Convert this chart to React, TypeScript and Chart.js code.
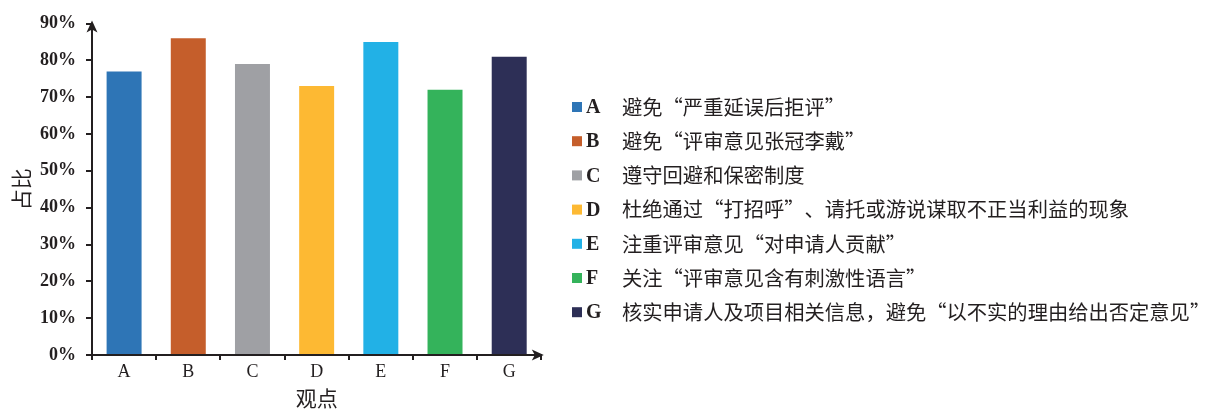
import React, { useEffect, useRef } from 'react';
import { Chart, registerables } from 'chart.js';

Chart.register(...registerables);

const categories = ['A', 'B', 'C', 'D', 'E', 'F', 'G'];
const values = [77, 86, 79, 73, 85, 72, 81];
const barColors = ['#2E75B6', '#C55E2B', '#9FA0A4', '#FDB933', '#22B1E6', '#34B35B', '#2D2F56'];
const legendTexts = [
  '避免“严重延误后拒评”',
  '避免“评审意见张冠李戴”',
  '遵守回避和保密制度',
  '杜绝通过“打招呼”、请托或游说谋取不正当利益的现象',
  '注重评审意见“对申请人贡献”',
  '关注“评审意见含有刺激性语言”',
  '核实申请人及项目相关信息，避免“以不实的理由给出否定意见”',
];
const yMin = 0;
const yMax = 90;
const yStep = 10;
const yTitle = '占比';
const xTitle = '观点';

const INK = '#231F20';

const axisArrows = {
  id: 'axisArrows',
  afterDraw(chart: any) {
    const { ctx, chartArea } = chart;
    const yScale = chart.scales.y;
    const ax = yScale.right;
    const top = chartArea.top;
    const bottom = chartArea.bottom;
    ctx.save();
    ctx.fillStyle = INK;
    ctx.strokeStyle = INK;
    ctx.lineWidth = 2;
    // y axis arrow
    const tipY = top - 3;
    ctx.beginPath();
    ctx.moveTo(ax, tipY);
    ctx.lineTo(ax + 5.5, tipY + 12);
    ctx.lineTo(ax, tipY + 9);
    ctx.lineTo(ax - 5.5, tipY + 12);
    ctx.closePath();
    ctx.fill();
    // x axis arrow
    const tipX = chartArea.right + 2.5;
    ctx.beginPath();
    ctx.moveTo(chartArea.right - 2, bottom);
    ctx.lineTo(tipX - 6, bottom);
    ctx.stroke();
    ctx.beginPath();
    ctx.moveTo(tipX, bottom);
    ctx.lineTo(tipX - 12, bottom - 5.5);
    ctx.lineTo(tipX - 9, bottom);
    ctx.lineTo(tipX - 12, bottom + 5.5);
    ctx.closePath();
    ctx.fill();
    ctx.restore();
  },
};

const sideLegend = {
  id: 'sideLegend',
  afterDraw(chart: any) {
    const { ctx } = chart;
    const x0 = 572;
    const y0 = 107;
    const step = 34.2;
    ctx.save();
    ctx.textBaseline = 'middle';
    ctx.textAlign = 'left';
    categories.forEach((c, i) => {
      const y = y0 + i * step;
      ctx.fillStyle = barColors[i];
      ctx.fillRect(x0, y - 5, 10, 10);
      ctx.fillStyle = INK;
      ctx.font = 'bold 20px "Liberation Serif"';
      ctx.fillText(c, x0 + 14, y + 1);
      ctx.font = '20.3px "Noto Sans CJK SC"';
      ctx.fillText(legendTexts[i], 622, y);
    });
    ctx.restore();
  },
};

export default function App() {
  const ref = useRef<HTMLCanvasElement | null>(null);
  useEffect(() => {
    if (!ref.current) return;
    const chart = new Chart(ref.current, {
      type: 'bar',
      data: {
        labels: categories,
        datasets: [
          {
            data: values,
            backgroundColor: barColors,
            barPercentage: 0.545,
            categoryPercentage: 1,
          },
        ],
      },
      options: {
        responsive: false,
        maintainAspectRatio: false,
        devicePixelRatio: 1,
        animation: false,
        layout: { padding: { left: 0, top: 23.5, right: 670.7, bottom: 0 } },
        plugins: { legend: { display: false }, tooltip: { enabled: false } },
        scales: {
          x: {
            afterFit: (s: any) => {
              s.height = 54;
            },
            grid: {
              offset: true,
              drawOnChartArea: false,
              drawTicks: true,
              tickLength: 5,
              lineWidth: 2,
              color: INK,
            },
            border: { display: true, color: INK, width: 2 },
            ticks: {
              color: INK,
              padding: 1,
              font: { family: '"Liberation Serif"', size: 18 },
            },
            title: {
              display: true,
              text: xTitle,
              color: INK,
              font: { family: '"Noto Sans CJK SC"', size: 21, lineHeight: 1 },
              padding: { top: 0, bottom: 0 },
            },
          },
          y: {
            min: yMin,
            max: yMax,
            afterFit: (s: any) => {
              s.width = 92;
            },
            grid: {
              drawOnChartArea: false,
              drawTicks: true,
              tickLength: 6,
              lineWidth: 2,
              color: INK,
            },
            border: { display: true, color: INK, width: 2 },
            ticks: {
              stepSize: yStep,
              color: INK,
              padding: 10,
              font: { family: '"Liberation Serif"', size: 18, weight: 'bold' },
              callback: (v: any) => v + '%',
            },
            title: {
              display: true,
              text: yTitle,
              color: INK,
              font: { family: '"Noto Sans CJK SC"', size: 21, lineHeight: 1 },
              padding: { top: 11, bottom: 0 },
            },
          },
        },
      },
      plugins: [axisArrows, sideLegend],
    });
    return () => chart.destroy();
  }, []);
  return (
    <div style={{ position: 'absolute', left: 0, top: 0, width: 1212, height: 409 }}>
      <canvas ref={ref} width={1212} height={409} style={{ display: 'block' }} />
    </div>
  );
}
